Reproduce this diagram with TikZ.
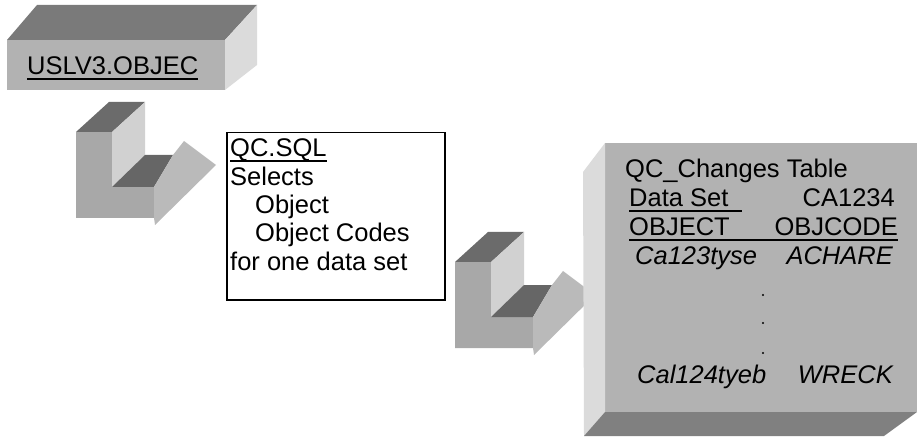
\documentclass[tikz,border=0pt]{standalone}
\usepackage{fontspec}
\setmainfont{Liberation Sans}
\begin{document}
\begin{tikzpicture}[x=1pt,y=-1pt,
  txt/.style={inner sep=0pt, font=\fontsize{25.5}{28}\selectfont},
  lw/.style={txt, anchor=base west},
  le/.style={txt, anchor=base east},
  uline/.style={line width=1.6pt, line cap=butt},
  % shaded faces of the 3-D slabs
  slabfront/.style={fill=black!30, draw=none, inner sep=0pt, outer sep=0pt},
  slabtop/.style={fill=black!52},
  slabside/.style={fill=black!14},
  slabbottom/.style={fill=black!50},
  % faces of the bent arrows
  arrfront/.style={fill=black!34},
  arrtop/.style={fill=black!58},
  arrside/.style={fill=black!18},
  arrstep/.style={fill=black!60},
  arrhead/.style={fill=black!27},
  bentarrow/.pic={
    \fill[arrfront] (0,0) -- (36,0) -- (36,55) -- (78,55) -- (78,86) -- (0,86) -- cycle;
    \fill[arrtop] (0,0) -- (36,0) -- (69,-30) -- (33,-30) -- cycle;
    \fill[arrside] (36,0) -- (69,-30) -- (69,23) -- (36,55) -- cycle;
    \fill[arrstep] (36,55) -- (69,23) -- (97,23) -- (78,55) -- cycle;
    \fill[arrhead] (108,9) -- (140,33) -- (79,93) -- (78,86) -- (78,55) -- (97,23) -- cycle;
  }
]
\useasboundingbox (0,0) rectangle (923,438);

% ---------- source table slab ----------
\node[slabfront, minimum width=218pt, minimum height=50pt, anchor=north west] (src) at (7,40) {};
\fill[slabtop] (src.north west) -- (src.north east) -- ++(32,-35) -- ([shift={(30,-35)}]src.north west) -- cycle;
\fill[slabside] (src.north east) -- ++(32,-35) -- ++(0,60) -- (src.south east) -- cycle;
\node[lw] (srctxt) at (27,75) {USLV3.OBJEC};
\draw[uline] ([yshift=-4pt]srctxt.base west) -- ([yshift=-4pt]srctxt.base east);

% ---------- first bent arrow ----------
\pic (arrA) at (76,132) {bentarrow};

% ---------- query description ----------
\node[draw, line width=1.5pt, minimum width=218pt, minimum height=167pt, anchor=north west, inner sep=0pt] (sql) at (226,132) {};
\node[lw] (q1) at (230,157) {QC.SQL};
\draw[uline] ([yshift=-4pt]q1.base west) -- ([yshift=-4pt]q1.base east);
\node[lw] (q2) at (230,185.3) {Selects};
\node[lw] (q3) at (255,213.5) {Object};
\node[lw] (q4) at (255,241.8) {Object Codes};
\node[lw] (q5) at (230,270) {for one data set};

% ---------- second bent arrow ----------
\pic (arrB) at (455,262) {bentarrow};

% ---------- result table slab ----------
\node[slabfront, minimum width=312pt, minimum height=269pt, anchor=north west] (res) at (605,143) {};
\fill[slabside] (res.north west) -- (res.south west) -- ++(-21,24) -- (583,172) -- cycle;
\fill[slabbottom] (res.south west) -- (res.south east) -- ++(-33,24) -- ([shift={(-21,24)}]res.south west) -- cycle;

\node[lw] (r0) at (625,178) {QC\_Changes Table};
\node[lw] (r1a) at (629,207) {Data Set};
\node[le] (r1b) at (895,207) {CA1234};
\draw[uline] ([yshift=-4pt]r1a.base west) -- ++(113,0);
\node[lw] (r2a) at (629,236) {OBJECT};
\node[le] (r2b) at (898,236) {OBJCODE};
\draw[uline] ([yshift=-4pt]r2a.base west) -- ([yshift=-4pt]r2b.base east);
\node[lw] (r3a) at (635,265) {\itshape Ca123tyse};
\node[le] (r3b) at (893,265) {\itshape ACHARE};
\fill (763,295) circle (1.2pt) (763,323) circle (1.2pt) (763,353) circle (1.2pt);
\node[lw] (r4a) at (637,383) {\itshape Cal124tyeb};
\node[le] (r4b) at (893,383) {\itshape WRECK};
\end{tikzpicture}
\end{document}
